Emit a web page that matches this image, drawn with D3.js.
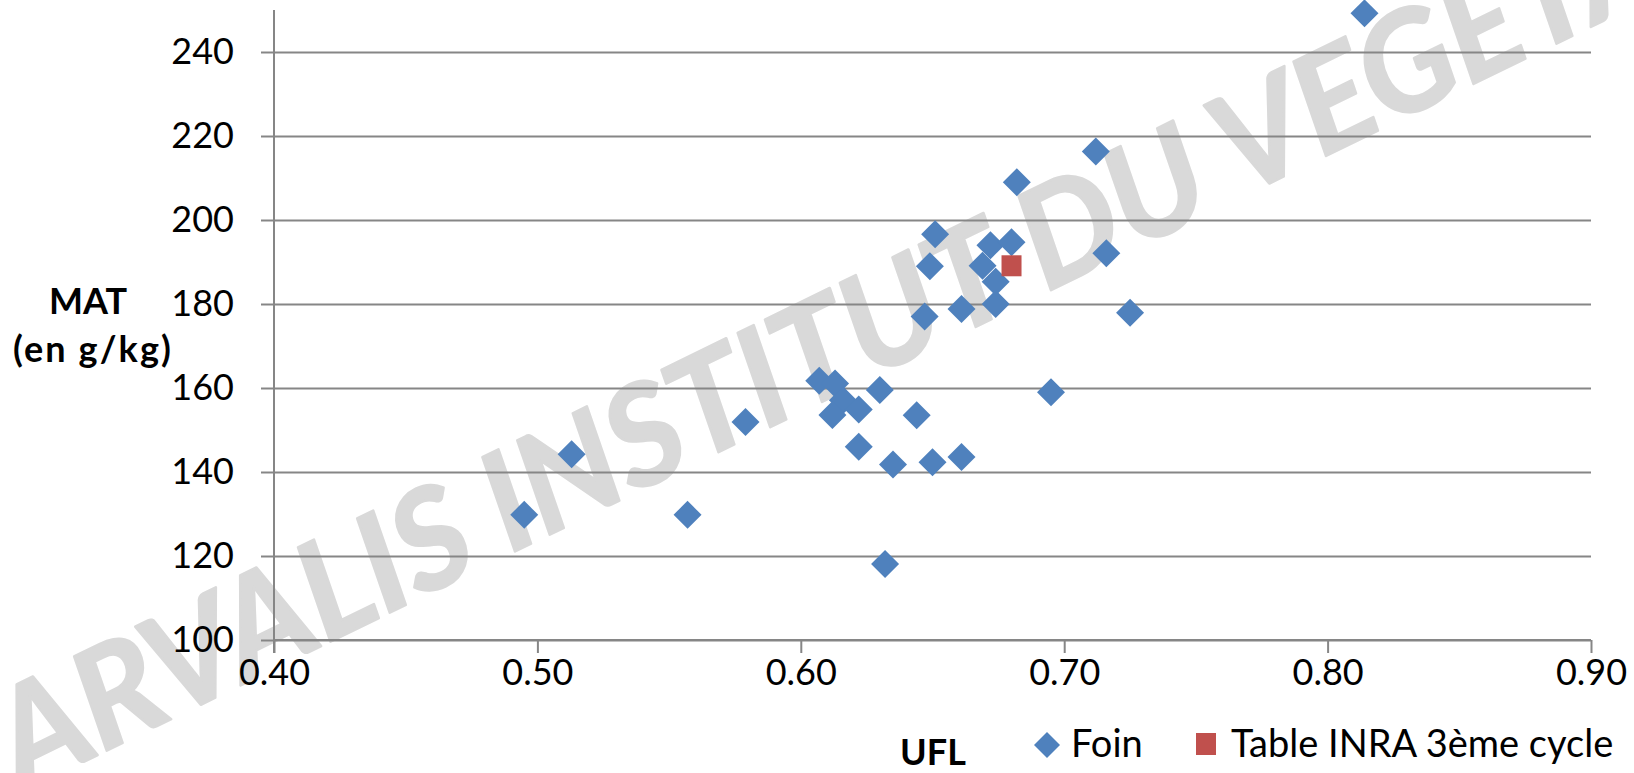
<!DOCTYPE html>
<html>
<head>
<meta charset="utf-8">
<script src="https://cdn.jsdelivr.net/npm/d3@7"></script>
<style>
  body { margin: 0; background: #fff; }
  svg { display: block; font-family: Lato, "Open Sans", sans-serif; }
</style>
</head>
<body>
<svg id="scatter"></svg>
<script>
// données
const foinUFL = [0.495, 0.513, 0.557, 0.579, 0.607, 0.613, 0.616, 0.612, 0.622, 0.630,
  0.644, 0.622, 0.635, 0.650, 0.661, 0.632, 0.647, 0.661, 0.674, 0.674,
  0.669, 0.649, 0.672, 0.651, 0.680, 0.682, 0.712, 0.716, 0.725, 0.695, 0.814];
const foinMAT = [129.8, 144.2, 129.8, 151.9, 161.7, 161.1, 157.1, 153.6, 154.9, 159.5,
  153.5, 146.0, 141.8, 142.3, 143.6, 118.1, 177.0, 178.8, 180.0, 185.3,
  189.1, 189.0, 194.0, 196.6, 194.7, 209.0, 216.3, 192.1, 177.9, 159.0, 249.2];
const inraUFL = [0.680];
const inraMAT = [189.1];
const xTicks = [0.4, 0.5, 0.6, 0.7, 0.8, 0.9];
const yTicks = [100, 120, 140, 160, 180, 200, 220, 240];
const seriesNames = ["Foin", "Table INRA 3ème cycle"];
const colors = ["#4F81BD", "#C0504D"];

class ScatterChart {
  margin = { top: 10, right: 43, bottom: 133, left: 274 };

  constructor(selector) {
    this.width = 1634;
    this.height = 773;
    this.svg = d3.select(selector).attr("width", this.width).attr("height", this.height);
  }

  diamond(r) {
    return `M0,${-r}L${r},0L0,${r}L${-r},0Z`;
  }

  initialize() {
    const m = this.margin;
    this.xScale = d3.scaleLinear().domain([0.4, 0.9]).range([m.left, this.width - m.right]);
    this.yScale = d3.scaleLinear().domain([100, 250]).range([this.height - m.bottom, m.top]);

    // filigrane
    this.svg.append("text")
      .attr("transform", "translate(22,792) rotate(-26)")
      .attr("font-size", 137)
      .attr("font-weight", "bold")
      .attr("font-style", "italic")
      .attr("fill", "#d9d9d9")
      .attr("stroke", "#d9d9d9")
      .attr("stroke-width", 2.5)
      .attr("stroke-linejoin", "round")
      .text("ARVALIS INSTITUT DU VEGETAL");

    // grille horizontale
    this.svg.append("g")
      .attr("transform", `translate(${m.left},0)`)
      .call(d3.axisLeft(this.yScale).tickValues(yTicks).tickSize(-(this.width - m.left - m.right)).tickFormat(""))
      .call(g => g.select(".domain").remove())
      .selectAll("line").attr("stroke", "#868686").attr("stroke-width", 2);

    // axe Y
    const yAxis = this.svg.append("g")
      .attr("transform", `translate(${m.left},0)`)
      .call(d3.axisLeft(this.yScale).tickValues(yTicks).tickSize(13).tickPadding(27).tickFormat(d3.format("d")));
    yAxis.select(".domain").attr("stroke", "#868686").attr("stroke-width", 2).attr("d", `M0,${this.yScale(100) + 13}V${m.top}`);
    yAxis.selectAll("line").attr("stroke", "#868686").attr("stroke-width", 2);
    yAxis.selectAll("text").attr("font-size", 36).attr("font-family", "Lato").attr("fill", "#000");

    // axe X
    const xAxis = this.svg.append("g")
      .attr("transform", `translate(0,${this.yScale(100)})`)
      .call(d3.axisBottom(this.xScale).tickValues(xTicks).tickSize(13).tickPadding(6).tickFormat(d3.format(".2f")));
    xAxis.select(".domain").attr("stroke", "#868686").attr("stroke-width", 2).attr("d", `M${m.left},0H${this.width - m.right}`);
    xAxis.selectAll("line").attr("stroke", "#868686").attr("stroke-width", 2);
    xAxis.selectAll("text").attr("font-size", 36).attr("font-family", "Lato").attr("fill", "#000");

    // titres des axes
    const yTitle = this.svg.append("text")
      .attr("text-anchor", "middle")
      .attr("font-size", 36)
      .attr("font-weight", "bold");
    yTitle.append("tspan").attr("x", 88).attr("y", 314).text("MAT");
    yTitle.append("tspan").attr("x", 92).attr("y", 362)
      .attr("textLength", 158).attr("lengthAdjust", "spacing")
      .text("(en g/kg)");

    this.svg.append("text")
      .attr("x", 933).attr("y", 765)
      .attr("text-anchor", "middle")
      .attr("font-size", 36)
      .attr("font-weight", "bold")
      .text("UFL");
  }

  render() {
    const foin = foinUFL.map((u, i) => ({ ufl: u, mat: foinMAT[i] }));
    const inra = inraUFL.map((u, i) => ({ ufl: u, mat: inraMAT[i] }));

    this.svg.append("g").selectAll("path")
      .data(foin)
      .join("path")
      .attr("d", this.diamond(14))
      .attr("transform", d => `translate(${this.xScale(d.ufl)},${this.yScale(d.mat)})`)
      .attr("fill", colors[0]);

    this.svg.append("g").selectAll("rect")
      .data(inra)
      .join("rect")
      .attr("x", d => this.xScale(d.ufl) - 10)
      .attr("y", d => this.yScale(d.mat) - 10.5)
      .attr("width", 20)
      .attr("height", 21)
      .attr("fill", colors[1]);

    // légende
    const legend = this.svg.append("g").attr("font-size", 38);
    legend.append("path").attr("d", this.diamond(13)).attr("transform", "translate(1047,745)").attr("fill", colors[0]);
    legend.append("text").attr("x", 1071).attr("y", 757).text(seriesNames[0]);
    legend.append("rect").attr("x", 1196).attr("y", 733).attr("width", 20).attr("height", 22).attr("fill", colors[1]);
    legend.append("text").attr("x", 1231).attr("y", 757).text(seriesNames[1]);
  }
}

const chart = new ScatterChart("#scatter");
chart.initialize();
chart.render();
</script>
</body>
</html>
